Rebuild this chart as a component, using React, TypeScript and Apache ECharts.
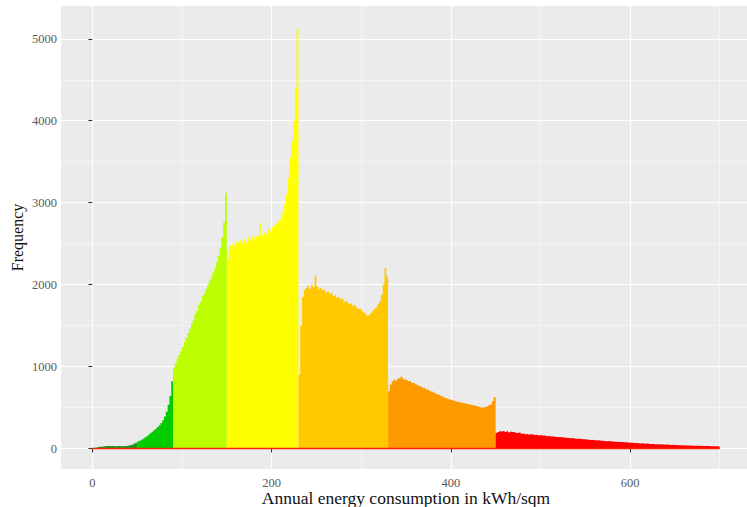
import React, { useEffect, useRef } from "react";
import * as echarts from "echarts";

// ---- data (bin width 2 kWh/sqm) ----
const BIN_WIDTH = 2;
const classStarts = [0, 50, 90, 150, 230, 330, 450];
const classColors = ["#1E961E", "#00CC00", "#BBFF00", "#FFFF00", "#FFC800", "#FF9900", "#FF0000"];

const classA = [5, 10, 15, 20, 22, 25, 28, 30, 30, 32, 30, 30, 28, 30, 32, 30, 28, 30, 32, 35, 40, 45, 50, 60, 70];
const classB = [85, 95, 108, 120, 135, 150, 168, 185, 205, 222, 240, 262, 285, 310, 345, 390, 450, 535, 640, 820];
const classC = [990, 1040, 1095, 1140, 1190, 1240, 1300, 1350, 1410, 1460, 1530, 1570, 1640, 1680, 1750, 1790, 1860, 1890, 1950, 2000, 2050, 2090, 2150, 2200, 2270, 2350, 2450, 2580, 2760, 3120];
const classD = [2300, 2420, 2480, 2500, 2470, 2530, 2510, 2545, 2500, 2560, 2530, 2515, 2580, 2540, 2600, 2560, 2585, 2600, 2750, 2580, 2620, 2640, 2615, 2680, 2650, 2700, 2720, 2740, 2765, 2780, 2820, 2880, 2980, 3100, 3300, 3550, 3750, 4000, 4400, 5130];
const classE = [900, 1500, 1850, 1930, 1960, 1990, 1950, 2000, 1970, 2110, 1980, 1950, 1960, 1930, 1940, 1900, 1920, 1890, 1900, 1860, 1870, 1840, 1850, 1820, 1830, 1790, 1800, 1780, 1760, 1770, 1740, 1750, 1720, 1700, 1710, 1680, 1660, 1640, 1620, 1630, 1650, 1680, 1700, 1720, 1760, 1800, 1880, 2000, 2200, 2100];
const classF = [700, 780, 820, 840, 830, 850, 860, 880, 850, 840, 835, 820, 825, 800, 795, 780, 772, 760, 752, 740, 735, 720, 718, 700, 695, 680, 672, 660, 655, 640, 632, 620, 612, 600, 598, 590, 582, 575, 572, 565, 562, 555, 552, 545, 542, 535, 532, 525, 522, 515, 508, 500, 502, 505, 512, 520, 530, 540, 580, 630];
const classG = [
  190, 200, 210, 205, 215, 200, 210, 195, 205, 200,
  195, 190, 185, 195, 180, 185, 175, 180, 170, 175,
  170, 165, 168, 160, 165, 158, 160, 155, 150, 152,
  148, 150, 145, 140, 142, 138, 140, 135, 130, 132,
  128, 125, 128, 122, 120, 118, 120, 115, 112, 114,
  110, 108, 105, 106, 102, 100, 98, 100, 95, 96,
  92, 90, 92, 88, 86, 85, 82, 84, 80, 78,
  78, 75, 76, 72, 70, 72, 68, 66, 67, 64,
  62, 63, 60, 58, 60, 56, 55, 56, 53, 52,
  52, 50, 51, 48, 47, 48, 45, 44, 45, 42,
  42, 41, 40, 40, 38, 39, 37, 36, 36, 35,
  34, 35, 33, 32, 33, 31, 30, 31, 30, 29,
  29, 28, 28, 27, 26,
];
const classValues = [classA, classB, classC, classD, classE, classF, classG];

const xTicks = [0, 200, 400, 600];
const xMinorTicks = [100, 300, 500, 700];
const yTicks = [0, 1000, 2000, 3000, 4000, 5000];
const yMinorTicks = [500, 1500, 2500, 3500, 4500];

const xTitle = "Annual energy consumption in kWh/sqm";
const yTitle = "Frequency";

const FONT = "'Liberation Serif', 'DejaVu Serif', serif";

export default function App() {
  const ref = useRef<HTMLDivElement>(null);

  useEffect(() => {
    if (!ref.current) return;
    const chart = echarts.init(ref.current, null, { renderer: "svg" });

    const stepSeries = classValues.map((vals, k) => {
      const start = classStarts[k];
      const pts = vals.map((v, i) => [start + i * BIN_WIDTH, v]);
      pts.push([start + vals.length * BIN_WIDTH, vals[vals.length - 1]]);
      return {
        type: "line",
        step: "end",
        data: pts,
        symbol: "none",
        lineStyle: { width: 0 },
        areaStyle: { color: classColors[k], opacity: 1, origin: 0 },
        z: 2,
        silent: true,
      };
    });

    const lastK = classValues.length - 1;
    const xEnd = classStarts[lastK] + classValues[lastK].length * BIN_WIDTH;

    const axisLabelStyle = { color: "#5a5a5a", fontFamily: FONT, fontSize: 12.5 };

    chart.setOption({
      animation: false,
      grid: {
        left: 61,
        top: 6,
        width: 690,
        height: 463,
        show: true,
        backgroundColor: "#EBEBEB",
        borderWidth: 0,
        containLabel: false,
        outerBoundsMode: "none",
      },
      xAxis: [
        {
          type: "value",
          min: -35,
          max: 735,
          axisLine: { show: false },
          axisTick: { show: true, length: 4, lineStyle: { color: "#333333" }, customValues: xTicks },
          axisLabel: { ...axisLabelStyle, margin: 7, customValues: xTicks, formatter: (v: number) => String(v) },
          splitLine: { show: true, lineStyle: { color: "#FFFFFF", width: 1.2 } },
          name: xTitle,
          nameLocation: "middle",
          nameGap: 20,
          nameMoveOverlap: false,
          nameTextStyle: { color: "#111111", fontFamily: FONT, fontSize: 17.5 },
        },
        {
          type: "value",
          min: -35,
          max: 735,
          position: "top",
          axisLine: { show: false },
          axisTick: { show: false, customValues: xMinorTicks },
          axisLabel: { show: false, customValues: xMinorTicks },
          splitLine: { show: true, lineStyle: { color: "#F6F6F6", width: 0.8 } },
        },
      ],
      yAxis: [
        {
          type: "value",
          min: -250,
          max: 5400,
          axisLine: { show: false },
          axisTick: { show: true, length: 4, lineStyle: { color: "#333333" }, customValues: yTicks },
          axisLabel: { ...axisLabelStyle, margin: 4, customValues: yTicks, formatter: (v: number) => String(v) },
          splitLine: { show: true, lineStyle: { color: "#FFFFFF", width: 1.2 } },
          name: yTitle,
          nameLocation: "middle",
          nameGap: 36,
          nameRotate: 90,
          nameMoveOverlap: false,
          nameTextStyle: { color: "#111111", fontFamily: FONT, fontSize: 16 },
        },
        {
          type: "value",
          min: -250,
          max: 5400,
          position: "right",
          axisLine: { show: false },
          axisTick: { show: false, customValues: yMinorTicks },
          axisLabel: { show: false, customValues: yMinorTicks },
          splitLine: { show: true, lineStyle: { color: "#F6F6F6", width: 0.8 } },
        },
      ],
      series: [
        ...stepSeries,
        {
          type: "line",
          data: [
            [classStarts[0], 0],
            [xEnd, 0],
          ],
          symbol: "none",
          lineStyle: { color: "#FF2000", width: 1.6 },
          z: 3,
          silent: true,
        },
      ],
    });

    return () => chart.dispose();
  }, []);

  return <div ref={ref} style={{ width: 747, height: 507, position: "absolute", left: 0, top: 0 }} />;
}
